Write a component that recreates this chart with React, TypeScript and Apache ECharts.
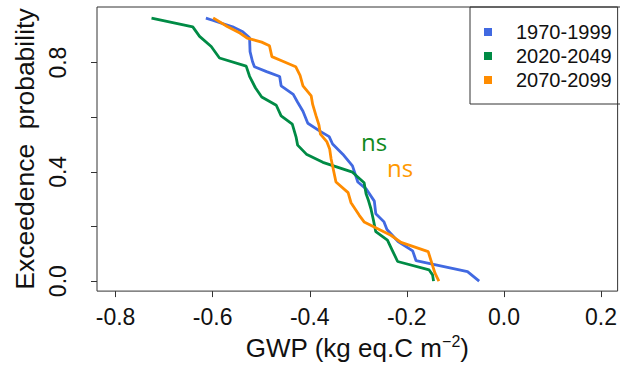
import React, { useEffect, useRef } from "react";
import * as echarts from "echarts";

const seriesNames = ["1970-1999", "2020-2049", "2070-2099"];
const seriesColors = ["#4169E1", "#008B45", "#FF8C00"];

const blue1970: [number, number][] = [
  [-0.614, 0.963], [-0.602, 0.956], [-0.559, 0.931], [-0.538, 0.913], [-0.524, 0.891],
  [-0.523, 0.84], [-0.518, 0.804], [-0.514, 0.785], [-0.489, 0.767], [-0.462, 0.749],
  [-0.459, 0.715], [-0.434, 0.684], [-0.425, 0.655], [-0.414, 0.622], [-0.404, 0.578],
  [-0.38, 0.55], [-0.36, 0.529], [-0.353, 0.502], [-0.332, 0.465], [-0.312, 0.422],
  [-0.301, 0.363], [-0.284, 0.338], [-0.267, 0.293], [-0.264, 0.247], [-0.247, 0.217],
  [-0.241, 0.189], [-0.218, 0.145], [-0.188, 0.111], [-0.181, 0.075], [-0.138, 0.059],
  [-0.075, 0.035], [-0.051, 0.0],
];

const green2020: [number, number][] = [
  [-0.726, 0.963], [-0.641, 0.931], [-0.627, 0.896], [-0.603, 0.859], [-0.586, 0.817],
  [-0.531, 0.787], [-0.524, 0.75], [-0.512, 0.708], [-0.499, 0.674], [-0.469, 0.644],
  [-0.459, 0.605], [-0.436, 0.575], [-0.428, 0.526], [-0.425, 0.498], [-0.407, 0.465],
  [-0.373, 0.435], [-0.312, 0.399], [-0.288, 0.36], [-0.284, 0.32], [-0.279, 0.295],
  [-0.274, 0.265], [-0.269, 0.225], [-0.264, 0.181], [-0.24, 0.15], [-0.23, 0.113],
  [-0.219, 0.072], [-0.154, 0.041], [-0.147, 0.023], [-0.145, 0.0],
];

const orange2070: [number, number][] = [
  [-0.599, 0.964], [-0.57, 0.932], [-0.544, 0.908], [-0.529, 0.89], [-0.499, 0.875],
  [-0.483, 0.862], [-0.478, 0.822], [-0.458, 0.807], [-0.429, 0.785], [-0.42, 0.753],
  [-0.414, 0.715], [-0.397, 0.678], [-0.394, 0.647], [-0.387, 0.605], [-0.381, 0.571],
  [-0.378, 0.538], [-0.365, 0.511], [-0.359, 0.484], [-0.356, 0.447], [-0.346, 0.363],
  [-0.321, 0.324], [-0.315, 0.287], [-0.298, 0.241], [-0.288, 0.217], [-0.233, 0.168],
  [-0.212, 0.142], [-0.156, 0.108], [-0.142, 0.029], [-0.134, 0.0],
];

const xTicks = [-0.8, -0.6, -0.4, -0.2, 0.0, 0.2];
const yTicks = [0.0, 0.2, 0.4, 0.6, 0.8];
const yLabels = [0.0, 0.4, 0.8];

const FONT = "'Liberation Sans', Arial, sans-serif";

export default function App() {
  const ref = useRef<HTMLDivElement>(null);
  useEffect(() => {
    document.body.style.margin = "0";
    const chart = echarts.init(ref.current!, null, { renderer: "svg" });
    const data = [blue1970, green2020, orange2070];
    chart.setOption({
      animation: false,
      backgroundColor: "#fff",
      grid: {
        left: 97,
        top: 7,
        width: 522,
        height: 286,
        show: true,
        borderColor: "#333",
        borderWidth: 1,
        backgroundColor: "transparent",
      },
      legend: {
        orient: "vertical",
        left: 484,
        top: 22,
        padding: 0,
        itemGap: 4,
        itemWidth: 8,
        itemHeight: 8,
        icon: "rect",
        data: seriesNames,
        textStyle: {
          fontSize: 20,
          lineHeight: 20,
          color: "#111",
          fontFamily: FONT,
          padding: [0, 0, 0, 19],
        },
      },
      xAxis: {
        type: "value",
        min: -0.8383,
        max: 0.2342,
        axisLine: { show: false, onZero: false },
        splitLine: { show: false },
        axisTick: {
          show: true,
          length: 6,
          customValues: xTicks,
          lineStyle: { color: "#333" },
        },
        axisLabel: {
          customValues: xTicks,
          formatter: (v: number) => v.toFixed(1),
          fontSize: 23,
          color: "#111",
          fontFamily: FONT,
          margin: 14,
        },
        name: "{a|GWP (kg eq.C m}{s|−2}{a|)}",
        nameLocation: "middle",
        nameGap: 41,
        nameTextStyle: {
          rich: {
            a: { fontSize: 26, fontFamily: FONT, color: "#111", lineHeight: 30 },
            s: { fontSize: 16, fontFamily: FONT, color: "#111", verticalAlign: "top", lineHeight: 16 },
          },
        },
      },
      yAxis: {
        type: "value",
        min: -0.0364,
        max: 1.0036,
        axisLine: { show: false, onZero: false },
        splitLine: { show: false },
        axisTick: {
          show: true,
          length: 6,
          customValues: yTicks,
          lineStyle: { color: "#333" },
        },
        axisLabel: {
          customValues: yLabels,
          formatter: (v: number) => v.toFixed(1),
          rotate: 90,
          fontSize: 23,
          color: "#111",
          fontFamily: FONT,
          margin: 28,
        },
        name: "Exceedence  probability",
        nameLocation: "middle",
        nameRotate: 90,
        nameGap: 52,
        nameTextStyle: { fontSize: 26.5, fontFamily: FONT, color: "#111" },
      },
      series: seriesNames.map((name, i) => ({
        name,
        type: "line",
        data: data[i],
        showSymbol: false,
        symbol: "none",
        color: seriesColors[i],
        lineStyle: { width: 2.8, color: seriesColors[i] },
      })),
      graphic: [
        {
          type: "rect",
          shape: { x: 470, y: 7, width: 160, height: 97 },
          style: { fill: "none", stroke: "#333", lineWidth: 1 },
          silent: true,
          z: 10,
        },
        {
          type: "text",
          x: 361,
          y: 141,
          style: {
            text: "ns",
            fill: "#108A20",
            fontSize: 24,
            fontFamily: "'Open Sans', 'Noto Sans', sans-serif",
            verticalAlign: "middle",
            align: "left",
          },
        },
        {
          type: "text",
          x: 387,
          y: 167,
          style: {
            text: "ns",
            fill: "#FF9900",
            fontSize: 24,
            fontFamily: "'Open Sans', 'Noto Sans', sans-serif",
            verticalAlign: "middle",
            align: "left",
          },
        },
      ],
    });
    return () => chart.dispose();
  }, []);
  return <div ref={ref} style={{ width: 620, height: 366 }} />;
}
